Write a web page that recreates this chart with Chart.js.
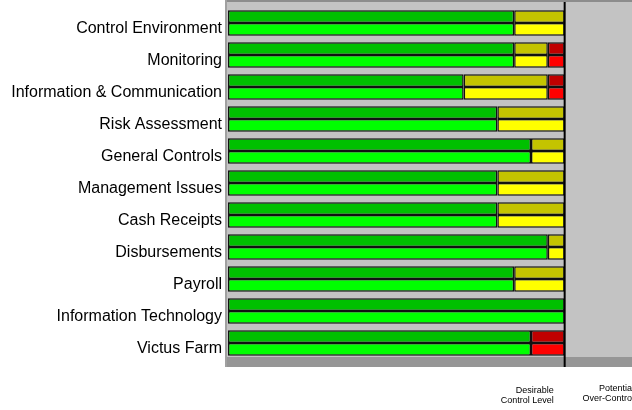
<!DOCTYPE html>
<html>
<head>
<meta charset="utf-8">
<script src="https://cdn.jsdelivr.net/npm/chart.js@4"></script>
<style>
  body { margin: 0; background: #fff; }
</style>
</head>
<body>
<canvas id="controlChart" width="632" height="410"></canvas>
<script>
// Categories, top to bottom
let categories = [
    "Control Environment",
    "Monitoring",
    "Information & Communication",
    "Risk Assessment",
    "General Controls",
    "Management Issues",
    "Cash Receipts",
    "Disbursements",
    "Payroll",
    "Information Technology",
    "Victus Farm"
];

// Segment values (same for both bars of each category)
let greenValues  = [85, 85, 70, 80, 90, 80, 80, 95, 85, 100, 90];
let yellowValues = [15, 10, 25, 20, 10, 20, 20, 5, 15, 0, 0];
let redValues    = [0, 5, 5, 0, 0, 0, 0, 0, 0, 0, 10];

let desirableLevel = 100;
let axisMax = 120;

// Background panel, bottom floor and the desirable level line
let panelPlugin = {
    id: "panel",
    beforeDatasetsDraw(chart) {
        let ctx = chart.ctx;
        let area = chart.chartArea;
        ctx.save();
        ctx.fillStyle = "#c3c3c3";
        ctx.fillRect(area.left - 1, 2, area.right - area.left + 1, 365);
        ctx.fillStyle = "#969696";
        ctx.fillRect(area.left - 1, 357, area.right - area.left + 1, 10);
        ctx.fillStyle = "#8c8c8c";
        ctx.fillRect(area.left - 3, 0, area.right - area.left + 3, 2);
        ctx.fillStyle = "#a0a0a0";
        ctx.fillRect(area.left - 3, 0, 2, 367);
        ctx.restore();
    },
    afterDatasetsDraw(chart) {
        let ctx = chart.ctx;
        let x = chart.scales.x.getPixelForValue(desirableLevel);
        ctx.save();
        ctx.strokeStyle = "#000";
        ctx.lineWidth = 2;
        ctx.beginPath();
        ctx.moveTo(x, 2);
        ctx.lineTo(x, 367);
        ctx.stroke();

        ctx.fillStyle = "#000";
        ctx.font = "9px 'Liberation Sans', Arial, sans-serif";
        ctx.textAlign = "right";
        ctx.textBaseline = "middle";
        ctx.fillText("Desirable", x - 11, 391);
        ctx.fillText("Control Level", x - 11, 401);
        ctx.fillText("Potential", 634, 389);
        ctx.fillText("Over-Control", 634, 399);
        ctx.restore();
    }
};

function makeSet(values, color, stack) {
    return {
        data: values,
        backgroundColor: color,
        borderColor: "#111",
        borderWidth: 1.5,
        borderSkipped: false,
        stack: stack,
        barPercentage: 1,
        categoryPercentage: 0.8
    };
}

let ctx = document.getElementById("controlChart").getContext("2d");
new Chart(ctx, {
    type: "bar",
    data: {
        labels: categories.map(c => ["", c]),
        datasets: [
            makeSet(greenValues, "#00c000", "upper"),
            makeSet(yellowValues, "#c4c400", "upper"),
            makeSet(redValues, "#c00000", "upper"),
            makeSet(greenValues, "#00ff00", "lower"),
            makeSet(yellowValues, "#ffff00", "lower"),
            makeSet(redValues, "#ff0000", "lower")
        ]
    },
    options: {
        indexAxis: "y",
        responsive: false,
        animation: false,
        devicePixelRatio: 1,
        layout: { padding: { left: 0, right: 0, top: 7, bottom: 51 } },
        plugins: {
            legend: { display: false },
            tooltip: { enabled: false }
        },
        scales: {
            x: {
                display: false,
                stacked: true,
                min: 0,
                max: axisMax
            },
            y: {
                stacked: true,
                grid: { display: false, drawTicks: false },
                border: { display: false },
                ticks: {
                    color: "#000",
                    padding: 6,
                    font: { family: "'Liberation Sans', Arial, sans-serif", size: 16, lineHeight: "11px" }
                },
                afterFit(scale) {
                    scale.width = 228;
                    scale.paddingTop = 0;
                    scale.paddingBottom = 0;
                }
            }
        }
    },
    plugins: [panelPlugin]
});
</script>
</body>
</html>
